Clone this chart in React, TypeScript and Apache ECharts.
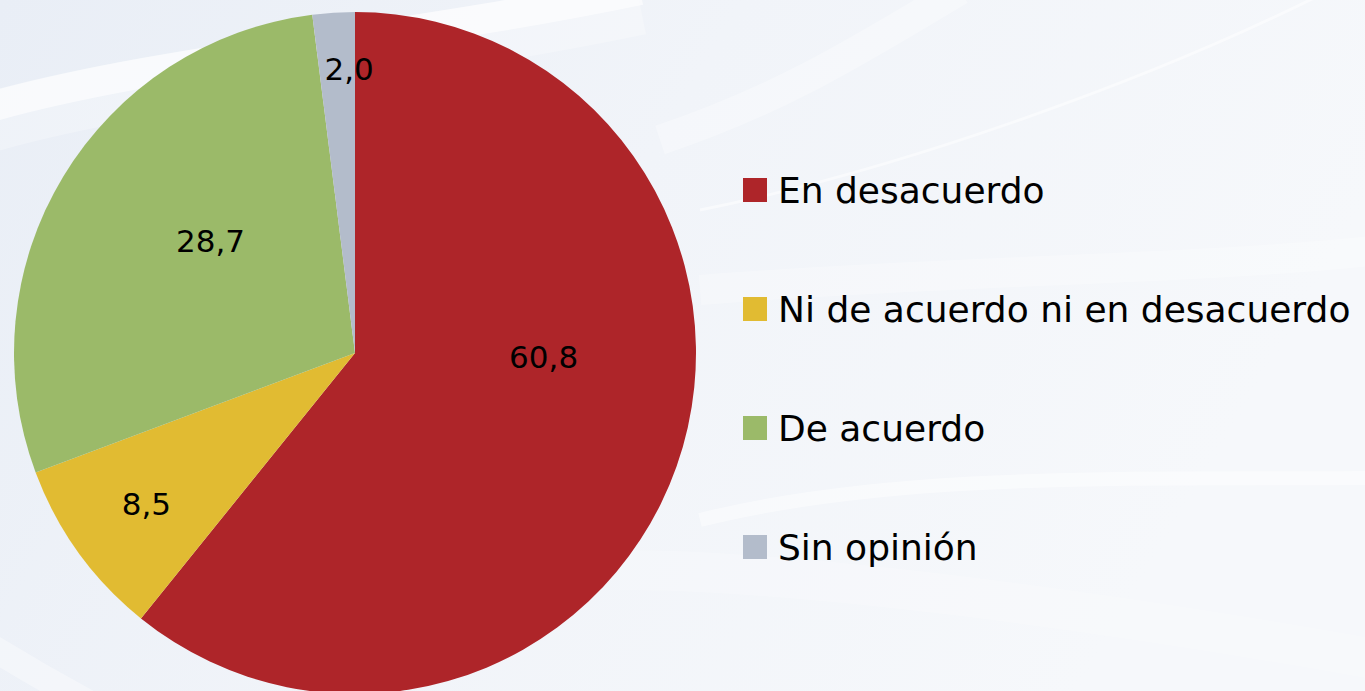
import React, { useEffect, useRef } from "react";
import * as echarts from "echarts";

const categories = ["En desacuerdo", "Ni de acuerdo ni en desacuerdo", "De acuerdo", "Sin opinión"];
const values = [60.8, 8.5, 28.7, 2.0];
const colors = ["#AE2529", "#E1BB32", "#9BBA69", "#B3BCCB"];
// label nudges (px) to mimic the original label placement
const labelShiftX = [25, -68, 4, 5];
const labelShiftY = [-54, 49, -22, -111];

export default function App() {
  const ref = useRef<HTMLDivElement>(null);
  useEffect(() => {
    document.body.style.margin = "0";
    const chart = echarts.init(ref.current!, undefined, { renderer: "svg" });
    const swoosh = (x1, y1, cpx1, cpy1, cpx2, cpy2, x2, y2, w, op) => ({
      type: "bezierCurve",
      silent: true,
      z: 0,
      shape: { x1, y1, cpx1, cpy1, cpx2, cpy2, x2, y2 },
      style: { stroke: "#ffffff", lineWidth: w, fill: null, opacity: op },
    });
    chart.setOption({
      animation: false,
      backgroundColor: {
        type: "linear",
        x: 0, y: 0, x2: 1, y2: 0.3,
        colorStops: [
          { offset: 0, color: "#e9eef6" },
          { offset: 0.5, color: "#f1f4f9" },
          { offset: 1, color: "#f6f8fb" },
        ],
      },
      graphic: [
        swoosh(-20, 110, 150, 60, 400, 40, 640, -10, 30, 0.6),
        swoosh(-20, 125, 150, 75, 400, 55, 640, 5, 60, 0.25),
        swoosh(660, 140, 780, 100, 860, 50, 960, -10, 30, 0.3),
        swoosh(700, 210, 900, 170, 1150, 80, 1320, -5, 3, 0.5),
        swoosh(700, 520, 900, 470, 1150, 480, 1380, 478, 14, 0.45),
        swoosh(700, 290, 950, 270, 1200, 270, 1380, 250, 30, 0.25),
        swoosh(-20, 640, 60, 690, 120, 720, 200, 760, 26, 0.35),
        swoosh(620, 570, 800, 570, 1100, 610, 1380, 660, 40, 0.2),
      ],
      legend: {
        orient: "vertical",
        left: 738,
        top: 165,
        itemWidth: 24,
        itemHeight: 24,
        itemGap: 79,
        icon: "rect",
        textStyle: {
          fontFamily: "DejaVu Sans",
          fontSize: 36,
          lineHeight: 40,
          color: "#000000",
          padding: [0, 0, 0, 6],
        },
        data: categories,
      },
      series: [
        {
          type: "pie",
          center: [355, 353],
          radius: [0, 341],
          startAngle: 90,
          clockwise: true,
          avoidLabelOverlap: false,
          itemStyle: { borderWidth: 0 },
          label: {
            show: true,
            position: "inside",
            fontFamily: "DejaVu Sans",
            fontSize: 31,
            color: "#000000",
            formatter: (p: any) => p.value.toFixed(1).replace(".", ","),
          },
          labelLine: { show: false },
          emphasis: { disabled: true },
          labelLayout: (p: any) => ({ dx: labelShiftX[p.dataIndex], dy: labelShiftY[p.dataIndex] }),
          data: categories.map((name, i) => ({
            name,
            value: values[i],
            itemStyle: { color: colors[i] },
          })),
        },
      ],
    });
    return () => chart.dispose();
  }, []);
  return <div ref={ref} style={{ width: 1365, height: 691 }} />;
}
